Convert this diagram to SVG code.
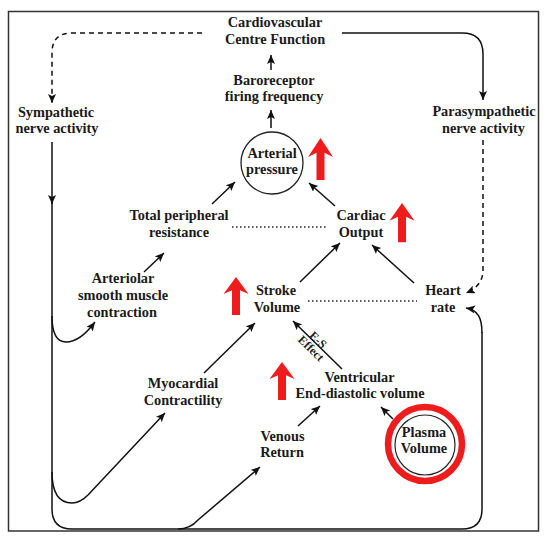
<svg xmlns="http://www.w3.org/2000/svg" width="548" height="537" viewBox="0 0 548 537">
<style>
text{font-family:"Liberation Serif","Times New Roman",serif;font-weight:bold;font-size:14.3px;fill:#1a1a1a;text-anchor:middle}
.ln{fill:none;stroke:#111;stroke-width:1.5}
.ar{marker-end:url(#ah)}
.dash{stroke-dasharray:5 4}
.dot{fill:none;stroke:#222;stroke-width:1.3;stroke-dasharray:1.5 2.5}
.red{fill:#ee1c1c}
.es{font-size:12px}
</style>
<defs>
<marker id="ah" markerUnits="userSpaceOnUse" markerWidth="11" markerHeight="9" refX="9" refY="4" orient="auto">
<path d="M0,0 L9,4 L0,8 L2,4 Z" fill="#111"/>
</marker>
<path id="up" d="M0,0 L12.5,18 L4,14 L4,40 L-4,40 L-4,14 L-12.5,18 Z"/>
</defs>
<rect x="8.5" y="11.5" width="530" height="519.5" fill="#fff" stroke="#333" stroke-width="1.5"/>

<g id="connectors">
<path class="ln dash ar" d="M202,33 H72 Q52,33 52,53 V103"/>
<path class="ln ar" d="M342,33 H462 Q483,33 483,54 V100"/>
<path class="ln dash ar" d="M483,140 V270 Q483,286 466,293"/>
<path class="ln ar" d="M271,70 V55"/>
<path class="ln ar" d="M271,128 V110"/>
<path class="ln ar" d="M212,204 L235,182"/>
<path class="ln ar" d="M335,206 L309,183"/>
<path class="ln ar" d="M144,272 L164,253"/>
<path class="ln ar" d="M300,282 L340,243"/>
<path class="ln ar" d="M414,283 L372,245"/>
<path class="ln ar" d="M204,373 L255,323"/>
<path class="ln ar" d="M342,369 L293,321"/>
<path class="ln ar" d="M298,426 L320,406"/>
<path class="ln ar" d="M393,419 L381,407"/>
<path class="ln ar" d="M52,142 V204"/>
<path class="ln" d="M52,200 V509 Q52,529 72,529 H462 Q482,529 482,509 V332"/>
<path class="ln ar" d="M482,333 C482,318 478,310 466,308"/>
<path class="ln ar" d="M52,316 Q52,342 66,342 Q80,342 95,322"/>
<path class="ln ar" d="M52,472 Q52,503 72,503 Q80,503 88,495 L165,413"/>
<path class="ln ar" d="M178,529 Q190,529 198,520 L260,467"/>
<line class="dot" x1="232" y1="227" x2="326" y2="227"/>
<line class="dot" x1="308" y1="301" x2="417" y2="301"/>
</g>

<g id="cvc"><text x="275" y="27">Cardiovascular</text><text x="275" y="44">Centre Function</text></g>
<g id="baro"><text x="274" y="85">Baroreceptor</text><text x="274" y="101">firing frequency</text></g>
<g id="symp"><text x="56" y="117">Sympathetic</text><text x="57" y="133">nerve activity</text></g>
<g id="para"><text x="484" y="116">Parasympathetic</text><text x="483.5" y="132.5">nerve activity</text></g>
<g id="ap"><circle cx="272" cy="163" r="31" fill="none" stroke="#222" stroke-width="1.3"/><text x="272" y="158">Arterial</text><text x="272" y="174">pressure</text></g>
<g id="tpr"><text x="179" y="220">Total peripheral</text><text x="179" y="236.5">resistance</text></g>
<g id="co"><text x="361" y="220">Cardiac</text><text x="361" y="236.5">Output</text></g>
<g id="asm"><text x="123" y="283">Arteriolar</text><text x="123" y="299.5">smooth muscle</text><text x="122" y="316.5">contraction</text></g>
<g id="sv"><text x="276" y="295">Stroke</text><text x="277" y="311.5">Volume</text></g>
<g id="hr"><text x="443" y="295">Heart</text><text x="443" y="311.5">rate</text></g>
<g id="mc"><text x="183" y="388">Myocardial</text><text x="183" y="405">Contractility</text></g>
<g id="edv"><text x="359.5" y="381.5">Ventricular</text><text x="360" y="398">End-diastolic volume</text></g>
<g id="vr"><text x="282.5" y="440.5">Venous</text><text x="282" y="457">Return</text></g>
<g id="pv"><circle cx="425" cy="444" r="37" fill="none" stroke="#ee1c1c" stroke-width="6.5"/><circle cx="425" cy="445" r="30" fill="none" stroke="#222" stroke-width="1.2"/><text x="424" y="436.5">Plasma</text><text x="424" y="453">Volume</text></g>
<g id="es" transform="translate(316,342) rotate(44.4)"><text class="es" x="0" y="1">E-S</text><text class="es" x="1" y="12">Effect</text></g>

<g id="increases">
<use href="#up" class="red" transform="translate(320.5,138) scale(1,1.05)"/>
<use href="#up" class="red" transform="translate(402,203) scale(1,0.98)"/>
<use href="#up" class="red" transform="translate(236,277) scale(1,0.95)"/>
<use href="#up" class="red" transform="translate(282,362) scale(1,0.95)"/>
</g>
</svg>
